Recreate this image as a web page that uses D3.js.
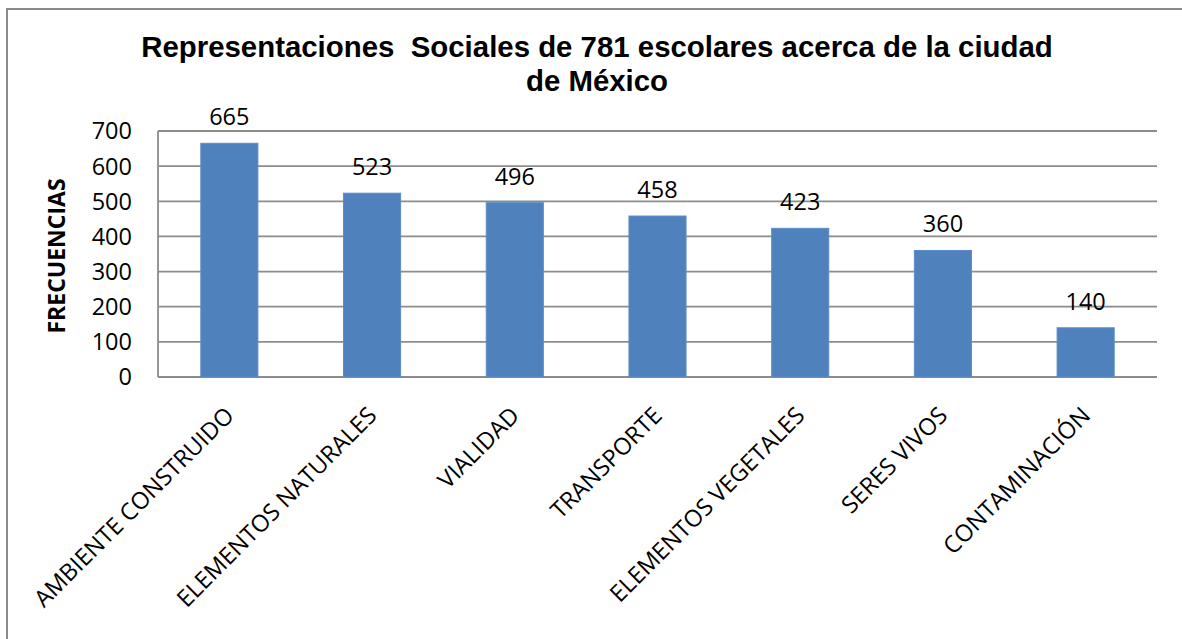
<!DOCTYPE html>
<html>
<head>
<meta charset="utf-8">
<script src="https://cdn.jsdelivr.net/npm/d3@7"></script>
<style>
  body { margin: 0; background: #fff; }
  svg { display: block; }
  .lbl { font-family: "Open Sans", sans-serif; font-size: 23.5px; fill: #000; }
</style>
</head>
<body>
<script>
// chart data
let categories = ["AMBIENTE CONSTRUIDO", "ELEMENTOS NATURALES", "VIALIDAD", "TRANSPORTE",
                  "ELEMENTOS VEGETALES", "SERES VIVOS", "CONTAMINACIÓN"];
let values = [665, 523, 496, 458, 423, 360, 140];
let yTicks = [0, 100, 200, 300, 400, 500, 600, 700];
let titleLines = ["Representaciones  Sociales de 781 escolares acerca de la ciudad", "de México"];
let yTitle = "FRECUENCIAS";

let width = 1182,
    height = 639;
let plotLeft = 158, plotRight = 1157, plotTop = 131, plotBottom = 377;

let svg = d3.select("body").append("svg")
  .attr("width", width)
  .attr("height", height);

// outer chart border (only top and left visible)
svg.append("rect")
  .attr("x", 7).attr("y", 9)
  .attr("width", 1200).attr("height", 700)
  .attr("fill", "none")
  .attr("stroke", "#8a8a8a")
  .attr("stroke-width", 2);

let x = d3.scaleBand()
  .domain(categories)
  .range([plotLeft, plotRight])
  .paddingInner(0.6)
  .paddingOuter(0.3);

let y = d3.scaleLinear()
  .domain([0, 700])
  .range([plotBottom, plotTop]);

// gridlines
svg.append("g").selectAll("line")
  .data(yTicks)
  .enter().append("line")
  .attr("x1", plotLeft).attr("x2", plotRight)
  .attr("y1", d => y(d)).attr("y2", d => y(d))
  .attr("stroke", "#8c8c8c")
  .attr("stroke-width", 1.8);

// left axis line
svg.append("line")
  .attr("x1", plotLeft).attr("x2", plotLeft)
  .attr("y1", plotTop).attr("y2", plotBottom)
  .attr("stroke", "#8c8c8c")
  .attr("stroke-width", 1.8);

// y tick labels
svg.append("g").selectAll("text")
  .data(yTicks)
  .enter().append("text")
  .attr("class", "lbl")
  .attr("x", 132)
  .attr("y", d => y(d))
  .attr("dy", "0.36em")
  .attr("text-anchor", "end")
  .text(d => d);

// bars
svg.append("g").selectAll("rect")
  .data(values)
  .enter().append("rect")
  .attr("x", (d, i) => x(categories[i]))
  .attr("width", x.bandwidth())
  .attr("y", d => y(d))
  .attr("height", d => y(0) - y(d))
  .attr("fill", "#4f81bd")
  .attr("stroke", "#5b8cc7")
  .attr("stroke-width", 1);

// value labels
svg.append("g").selectAll("text")
  .data(values)
  .enter().append("text")
  .attr("class", "lbl")
  .attr("x", (d, i) => x(categories[i]) + x.bandwidth() / 2)
  .attr("y", d => y(d) - 18)
  .attr("text-anchor", "middle")
  .text(d => d);

// category labels, rotated
svg.append("g").selectAll("text")
  .data(categories)
  .enter().append("text")
  .attr("class", "lbl")
  .attr("text-anchor", "end")
  .attr("transform", d => "translate(" + (x(d) + x.bandwidth() / 2 + 6) + ",417) rotate(-45)")
  .text(d => d);

// y axis title
svg.append("text")
  .attr("transform", "translate(65,256) rotate(-90)")
  .attr("text-anchor", "middle")
  .style("font-family", "'Open Sans', sans-serif")
  .style("font-size", "23px")
  .style("font-weight", "bold")
  .text(yTitle);

// chart title
svg.append("g").selectAll("text")
  .data(titleLines)
  .enter().append("text")
  .attr("x", 597)
  .attr("y", (d, i) => 57 + i * 34)
  .attr("text-anchor", "middle")
  .style("font-family", "'Liberation Sans', Arial, sans-serif")
  .style("font-size", "29.4px")
  .style("font-weight", "bold")
  .style("white-space", "pre")
  .text(d => d);
</script>
</body>
</html>
